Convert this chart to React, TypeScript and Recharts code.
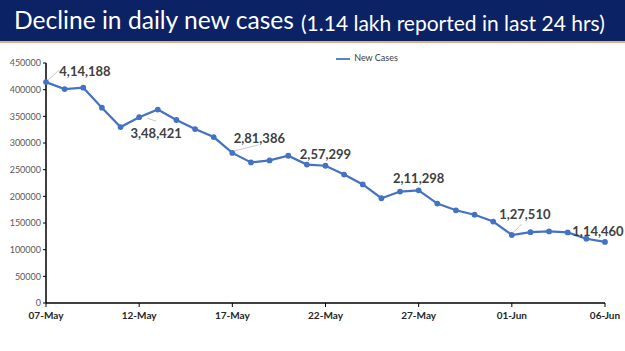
import { LineChart, Line, XAxis, YAxis, Legend, LabelList } from "recharts"

const dates = [
  "07-May", "08-May", "09-May", "10-May", "11-May", "12-May", "13-May", "14-May",
  "15-May", "16-May", "17-May", "18-May", "19-May", "20-May", "21-May", "22-May",
  "23-May", "24-May", "25-May", "26-May", "27-May", "28-May", "29-May", "30-May",
  "31-May", "01-Jun", "02-Jun", "03-Jun", "04-Jun", "05-Jun", "06-Jun",
]

const newCases = [
  414188, 401078, 403738, 366161, 329942, 348421, 362727, 343144,
  326098, 311170, 281386, 263533, 267334, 276070, 259551, 257299,
  240842, 222315, 196427, 208921, 211298, 186364, 173790, 165553,
  152734, 127510, 132788, 134154, 132364, 120529, 114460,
]

const yTicks = [0, 50000, 100000, 150000, 200000, 250000, 300000, 350000, 400000, 450000]

const labelledDates = ["07-May", "12-May", "17-May", "22-May", "27-May", "01-Jun", "06-Jun"]

const data = dates.map((date, i) => ({ date, cases: newCases[i] }))

// label offsets from the point, and optional leader line
const labelStyle: Record<string, { dx: number; dy: number; lead?: [number, number, number, number] }> = {
  "07-May": { dx: 39, dy: -11, lead: [2, -2, 13, -12] },
  "12-May": { dx: 17, dy: 16, lead: [8, 1, 17, 4] },
  "17-May": { dx: 27, dy: -15, lead: [2, -2, 26, -8] },
  "22-May": { dx: 0, dy: -12 },
  "27-May": { dx: 0, dy: -12 },
  "01-Jun": { dx: 13, dy: -21, lead: [1, -2, 10, -11] },
  "06-Jun": { dx: -7, dy: -11 },
}

const formatIndian = (n: number) => {
  const s = String(n)
  const last3 = s.slice(-3)
  const rest = s.slice(0, -3)
  return rest ? rest.replace(/\B(?=(\d{2})+(?!\d))/g, ",") + "," + last3 : last3
}

function CaseLabel(props: any) {
  const { x, y, value, index } = props
  const date = dates[index]
  if (!labelledDates.includes(date)) return null
  const st = labelStyle[date]
  return (
    <g>
      {st.lead && (
        <line
          x1={x + st.lead[0]}
          y1={y + st.lead[1]}
          x2={x + st.lead[2]}
          y2={y + st.lead[3]}
          stroke="#c8c8c8"
          strokeWidth={1}
        />
      )}
      <text
        x={x + st.dx}
        y={y + st.dy}
        textAnchor="middle"
        dominantBaseline="central"
        fontSize={13}
        fontWeight={700}
        fill="#404040"
        fontFamily="Lato, sans-serif"
      >
        {formatIndian(value)}
      </text>
    </g>
  )
}

export default function App() {
  return (
    <div style={{ position: "absolute", left: 0, top: 0, width: 625, height: 351, background: "#fff", overflow: "hidden" }}>
      <div
        style={{
          position: "absolute",
          left: 0,
          top: 0,
          width: 625,
          height: 41,
          background: "#0b2265",
          borderBottom: "2px solid #e0b080",
          color: "#fff",
          fontFamily: "Lato, sans-serif",
          whiteSpace: "nowrap",
        }}
      >
        <span style={{ position: "absolute", left: 14, top: 4, fontSize: 24.6, lineHeight: "32px" }}>Decline in daily new cases</span>
        <span style={{ position: "absolute", left: 301, top: 10, fontSize: 21, lineHeight: "26px" }}>(1.14 lakh reported in last 24 hrs)</span>
      </div>
      <LineChart width={625} height={351} data={data} margin={{ top: 63, right: 20, bottom: 18, left: 0 }}>
        <XAxis
          dataKey="date"
          interval={4}
          height={30}
          tickLine={{ stroke: "#000" }}
          tickSize={4}
          tickMargin={5}
          axisLine={{ stroke: "#000", strokeWidth: 1.5 }}
          tick={{ fontSize: 10, fontWeight: 700, fill: "#262626", fontFamily: "Lato, sans-serif" }}
          padding={{ left: 0, right: 0 }}
        />
        <YAxis
          width={46}
          domain={[0, 450000]}
          ticks={yTicks}
          tickLine={{ stroke: "#000" }}
          tickSize={3}
          axisLine={{ stroke: "#000", strokeWidth: 1.5 }}
          tick={{ fontSize: 9, fill: "#595959", fontFamily: "Lato, sans-serif" }}
        />
        <Legend
          verticalAlign="middle"
          align="center"
          iconType="plainline"
          iconSize={14}
          wrapperStyle={{ top: 52, left: 322, width: 100, fontSize: 9, fontFamily: "Lato, sans-serif", color: "#404040" }}
          formatter={() => <span style={{ color: "#404040" }}>New Cases</span>}
        />
        <Line
          type="linear"
          dataKey="cases"
          name="New Cases"
          stroke="#4472c4"
          strokeWidth={2.2}
          dot={{ r: 1.8, fill: "#4472c4", stroke: "#4472c4" }}
          isAnimationActive={false}
        >
          <LabelList dataKey="cases" content={<CaseLabel />} />
        </Line>
      </LineChart>
    </div>
  )
}
